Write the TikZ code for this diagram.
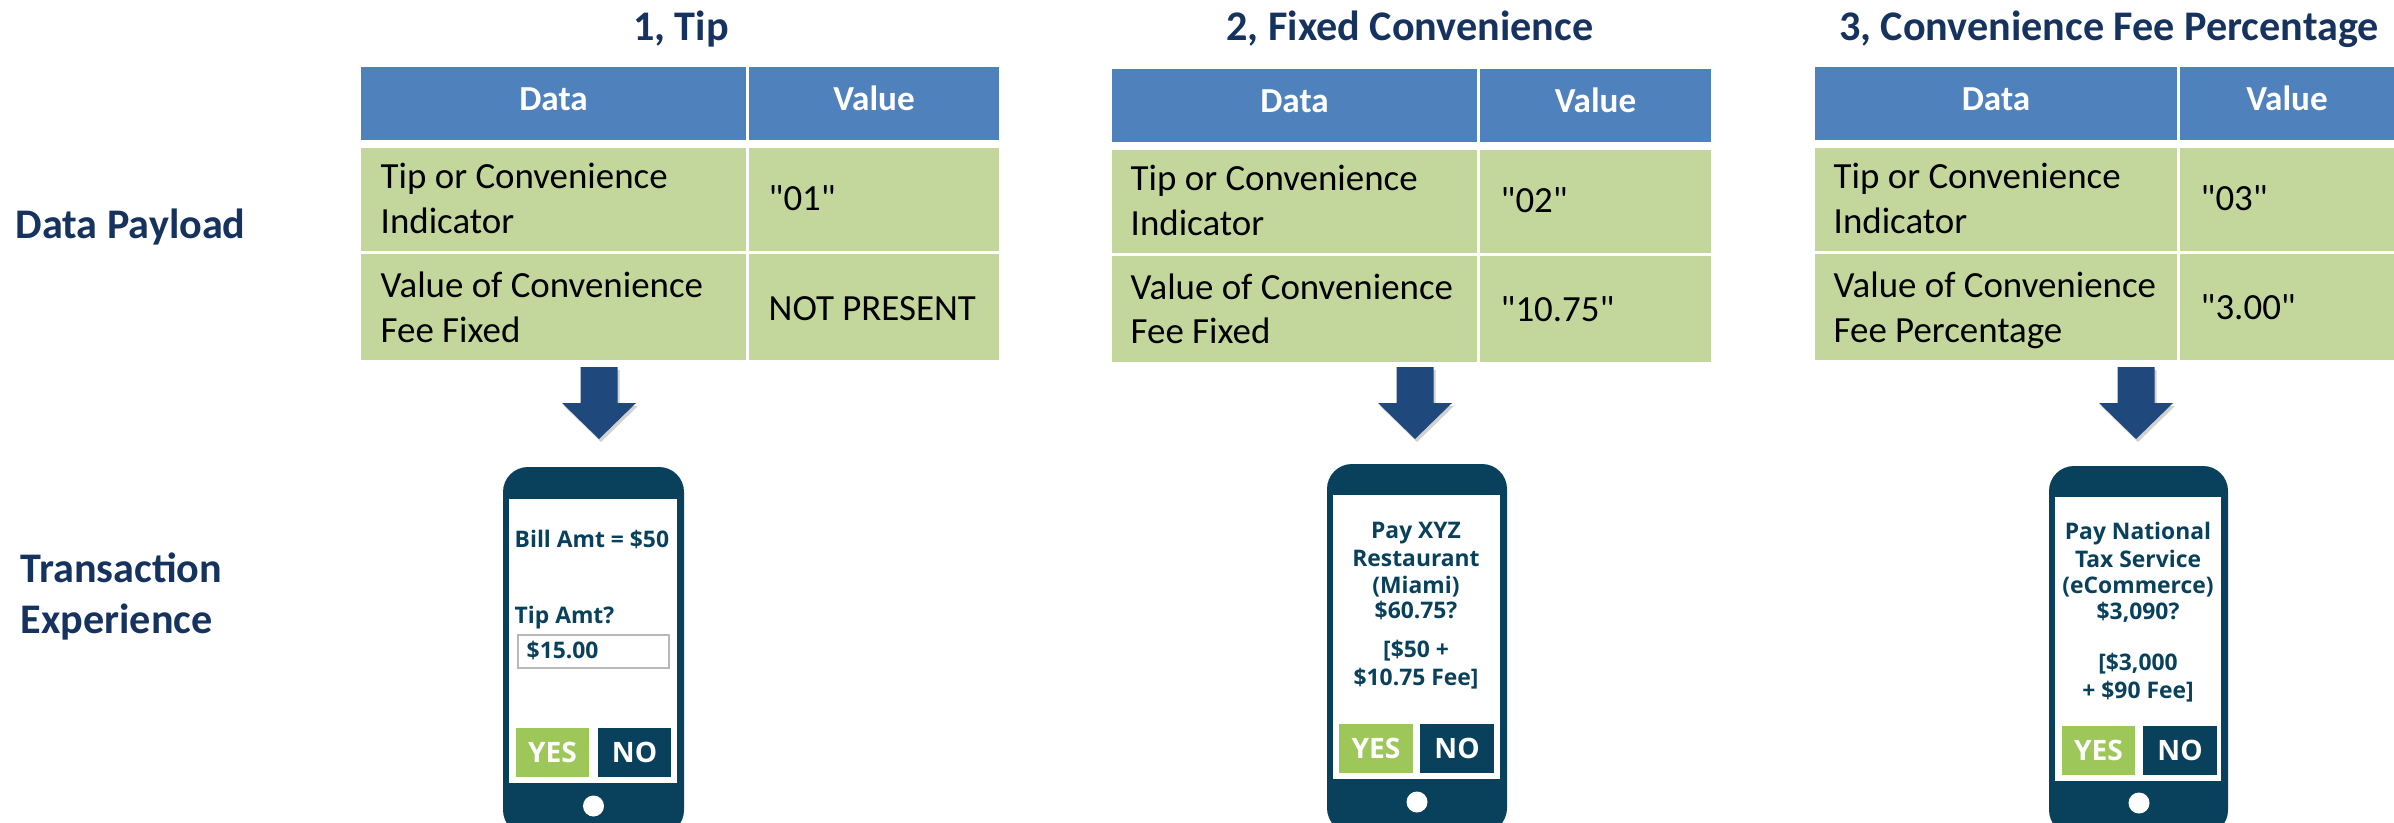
\documentclass[tikz,border=0pt]{standalone}
\usepackage{fontspec}
\setmainfont{Carlito}[Ligatures=TeXOff]
\newfontfamily\phonefont{Open Sans}
\definecolor{navy}{HTML}{16325F}
\definecolor{hdrblue}{HTML}{4F81BD}
\definecolor{rowgreen}{HTML}{C3D69B}
\definecolor{phoneblue}{HTML}{09415C}
\definecolor{yesgreen}{HTML}{9EC75A}
\definecolor{arrowblue}{HTML}{1F497D}
\begin{document}
\begin{tikzpicture}[x=0.2845276pt, y=-0.2845276pt,
  title/.style={text=navy, font=\bfseries\fontsize{12}{14}\selectfont, anchor=base, inner sep=0},
  sidelabel/.style={text=navy, font=\bfseries\fontsize{12}{14}\selectfont, anchor=base west, inner sep=0},
  hdrtext/.style={text=white, font=\bfseries\fontsize{10}{12}\selectfont, anchor=base, inner sep=0},
  celltext/.style={text=black, font=\fontsize{10.5}{12.6}\selectfont, anchor=base west, inner sep=0},
  phonetext/.style={text=phoneblue, font=\phonefont\bfseries\fontsize{6.5}{8}\selectfont, inner sep=0},
  btn/.style={minimum width=20.8pt, minimum height=13.9pt, inner sep=0, text=white, font=\phonefont\bfseries\fontsize{8}{9}\selectfont},
  yesbtn/.style={btn, fill=yesgreen},
  nobtn/.style={btn, fill=phoneblue},
  arrowshadow/.style={fill=black, opacity=0.18},
]
\useasboundingbox (0,0) rectangle (2394,822);

% ---------- side labels ----------
\node[sidelabel] (dp) at (15,238) {Data Payload};
\node[sidelabel] (te1) at (20,582) {Transaction};
\node[sidelabel] (te2) at (20,633) {Experience};

% ---------- titles ----------
\node[title] (ti1) at (681,40) {1, Tip};
\node[title] (ti2) at (1410,40) {2, Fixed Convenience};
\node[title] (ti3) at (2109,40) {3, Convenience Fee Percentage};

% ---------- table 1 ----------
\fill[hdrblue] (361,67) rectangle (746,140);
\fill[hdrblue] (749,67) rectangle (999,140);
\fill[rowgreen] (361,148) rectangle (746,251);
\fill[rowgreen] (749,148) rectangle (999,251);
\fill[rowgreen] (361,254) rectangle (746,360);
\fill[rowgreen] (749,254) rectangle (999,360);
\node[hdrtext] (a-h1) at (553.5,110) {Data};
\node[hdrtext] (a-h2) at (874,110) {Value};
\node[celltext] (a-r1a) at (380,188) {Tip or Convenience};
\node[celltext] (a-r1b) at (380,233) {Indicator};
\node[celltext] (a-r1v) at (768,210) {"01"};
\node[celltext] (a-r2a) at (380,297) {Value of Convenience};
\node[celltext] (a-r2b) at (380,342) {Fee Fixed};
\node[celltext] (a-r2v) at (768,320) {NOT PRESENT};

% ---------- table 2 ----------
\fill[hdrblue] (1112,69) rectangle (1477,142);
\fill[hdrblue] (1480,69) rectangle (1711,142);
\fill[rowgreen] (1112,150) rectangle (1477,253);
\fill[rowgreen] (1480,150) rectangle (1711,253);
\fill[rowgreen] (1112,256) rectangle (1477,362);
\fill[rowgreen] (1480,256) rectangle (1711,362);
\node[hdrtext] (b-h1) at (1294.5,112) {Data};
\node[hdrtext] (b-h2) at (1595.5,112) {Value};
\node[celltext] (b-r1a) at (1130,190) {Tip or Convenience};
\node[celltext] (b-r1b) at (1130,235) {Indicator};
\node[celltext] (b-r1v) at (1500,212) {"02"};
\node[celltext] (b-r2a) at (1130,299) {Value of Convenience};
\node[celltext] (b-r2b) at (1130,343) {Fee Fixed};
\node[celltext] (b-r2v) at (1500,321) {"10.75"};

% ---------- table 3 ----------
\fill[hdrblue] (1815,67) rectangle (2177,140);
\fill[hdrblue] (2180,67) rectangle (2394,140);
\fill[rowgreen] (1815,148) rectangle (2177,251);
\fill[rowgreen] (2180,148) rectangle (2394,251);
\fill[rowgreen] (1815,254) rectangle (2177,360);
\fill[rowgreen] (2180,254) rectangle (2394,360);
\node[hdrtext] (c-h1) at (1996,110) {Data};
\node[hdrtext] (c-h2) at (2287,110) {Value};
\node[celltext] (c-r1a) at (1833,188) {Tip or Convenience};
\node[celltext] (c-r1b) at (1833,233) {Indicator};
\node[celltext] (c-r1v) at (2200,210) {"03"};
\node[celltext] (c-r2a) at (1833,297) {Value of Convenience};
\node[celltext] (c-r2b) at (1833,342) {Fee Percentage};
\node[celltext] (c-r2v) at (2200,319) {"3.00"};

% ---------- arrows ----------
\foreach \cx in {599,1415,2136}{
  \fill[arrowshadow] (\cx-18.5+2,370) -- (\cx+18.5+2,370) -- (\cx+18.5+2,406) -- (\cx+37+2,406) -- (\cx+2,442) -- (\cx-37+2,406) -- (\cx-18.5+2,406) -- cycle;
  \fill[arrowblue] (\cx-18.5,367) -- (\cx+18.5,367) -- (\cx+18.5,403) -- (\cx+37,403) -- (\cx,439) -- (\cx-37,403) -- (\cx-18.5,403) -- cycle;
}

% ---------- phone 1 ----------
\fill[phoneblue, rounded corners=7.1pt] (503,467) rectangle (684,835);
\fill[white] (509,499) rectangle (677,783);
\fill[white] (593.5,806) circle[radius=10.5];
\node[phonetext, anchor=base west] (p1l1) at (514,547) {Bill Amt = \$50};
\node[phonetext, anchor=base west] (p1l2) at (514,623) {Tip Amt?};
\draw[black!28, fill=white, line width=0.5pt] (518,635) rectangle (669,668);
\node[phonetext, anchor=base west] (p1l3) at (526,658) {\$15.00};
\node[yesbtn] (p1yes) at (552.5,752.5) {YES};
\node[nobtn] (p1no) at (634.5,752.5) {NO};

% ---------- phone 2 ----------
\fill[phoneblue, rounded corners=7.1pt] (1327,464) rectangle (1507,833);
\fill[white] (1333,495) rectangle (1500,779);
\fill[white] (1417,802) circle[radius=10.5];
\node[phonetext, anchor=base] (p2l1) at (1416,538) {Pay XYZ};
\node[phonetext, anchor=base] (p2l2) at (1416,566) {Restaurant};
\node[phonetext, anchor=base] (p2l3) at (1416,593) {(Miami)};
\node[phonetext, anchor=base] (p2l4) at (1416,618) {\$60.75?};
\node[phonetext, anchor=base] (p2l5) at (1416,657) {[\$50 +};
\node[phonetext, anchor=base] (p2l6) at (1416,685) {\$10.75 Fee]};
\node[yesbtn] (p2yes) at (1376,748.5) {YES};
\node[nobtn] (p2no) at (1457,748.5) {NO};

% ---------- phone 3 ----------
\fill[phoneblue, rounded corners=7.1pt] (2049,466) rectangle (2228,835);
\fill[white] (2055,497) rectangle (2221,781);
\fill[white] (2139,803) circle[radius=10.5];
\node[phonetext, anchor=base] (p3l1) at (2138,539) {Pay National};
\node[phonetext, anchor=base] (p3l2) at (2138,567) {Tax Service};
\node[phonetext, anchor=base] (p3l3) at (2138,593) {(eCommerce)};
\node[phonetext, anchor=base] (p3l4) at (2138,619) {\$3,090?};
\node[phonetext, anchor=base] (p3l5) at (2138,670) {[\$3,000};
\node[phonetext, anchor=base] (p3l6) at (2138,698) {+ \$90 Fee]};
\node[yesbtn] (p3yes) at (2098.5,750.5) {YES};
\node[nobtn] (p3no) at (2180,750.5) {NO};
\end{tikzpicture}
\end{document}
